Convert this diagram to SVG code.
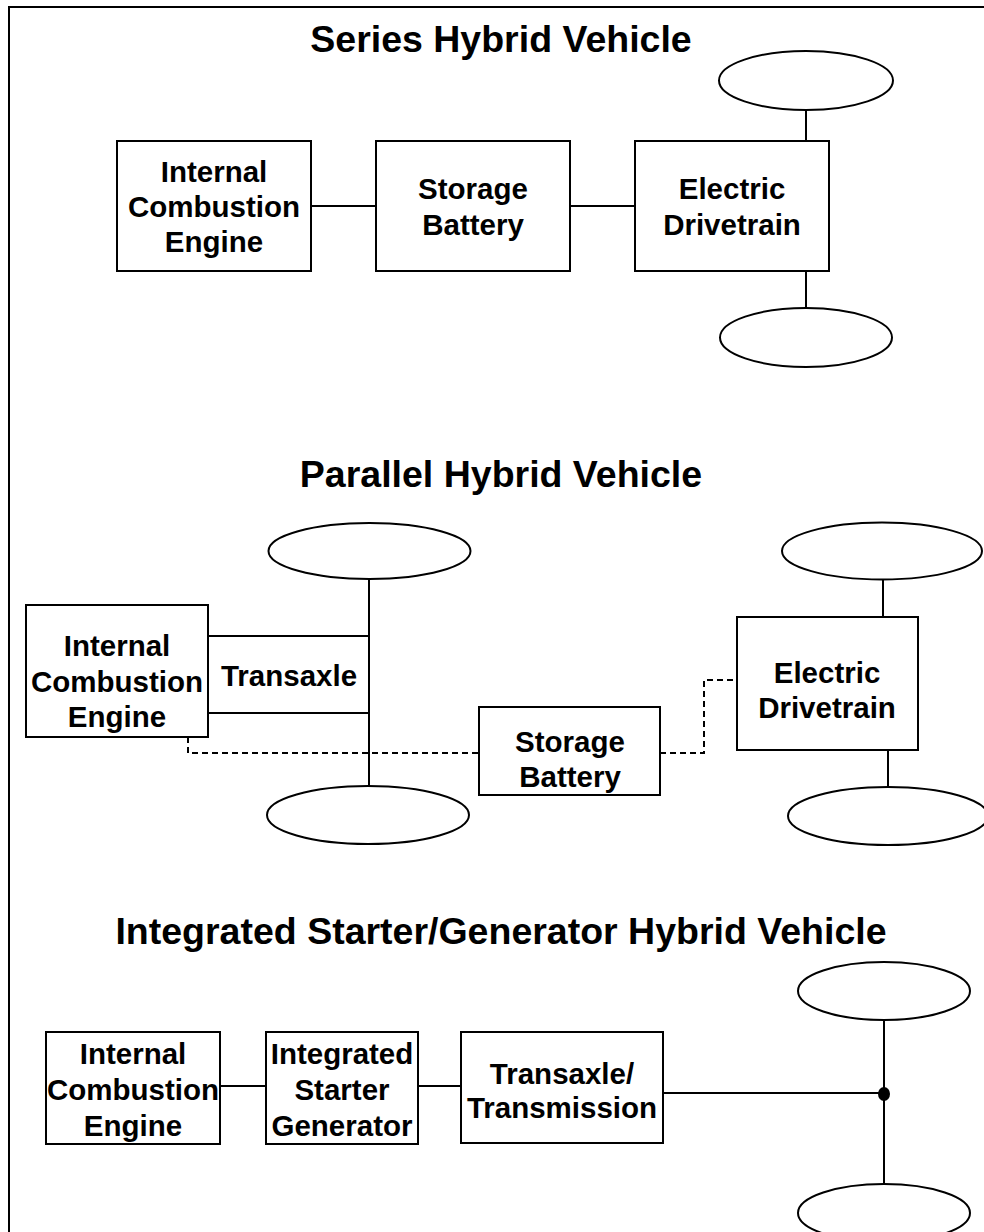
<svg xmlns="http://www.w3.org/2000/svg" width="984" height="1232" viewBox="0 0 984 1232">
  <style>
    .box { fill: #fff; stroke: #000; stroke-width: 2; }
    .wheel { fill: #fff; stroke: #000; stroke-width: 2; }
    .link { fill: none; stroke: #000; stroke-width: 2; }
    .dash { fill: none; stroke: #000; stroke-width: 2; stroke-dasharray: 6 4; }
    .title { font-family: "Liberation Sans", Arial, sans-serif; font-weight: bold; font-size: 37.5px; text-anchor: middle; fill: #000; }
    .label { font-family: "Liberation Sans", Arial, sans-serif; font-weight: bold; font-size: 29.5px; text-anchor: middle; fill: #000; }
  </style>

  <rect x="0" y="0" width="984" height="1232" fill="#fff"/>
  <!-- page frame -->
  <rect x="9" y="7" width="1000" height="1300" fill="none" stroke="#000" stroke-width="2"/>

  <!-- section titles -->
  <text class="title" x="501" y="52">Series Hybrid Vehicle</text>
  <text class="title" x="501" y="487">Parallel Hybrid Vehicle</text>
  <text class="title" x="501" y="944">Integrated Starter/Generator Hybrid Vehicle</text>

  <!-- connectors -->
  <g id="connectors">
    <!-- series -->
    <line class="link" x1="311" y1="206" x2="376" y2="206"/>
    <line class="link" x1="570" y1="206" x2="635" y2="206"/>
    <line class="link" x1="806" y1="110" x2="806" y2="141"/>
    <line class="link" x1="806" y1="271" x2="806" y2="308"/>
    <!-- parallel -->
    <line class="link" x1="369" y1="580" x2="369" y2="787"/>
    <polyline class="dash" points="188,737 188,753 479,753"/>
    <polyline class="dash" points="660,753 704,753 704,680 736,680"/>
    <line class="link" x1="883" y1="579" x2="883" y2="617"/>
    <line class="link" x1="888" y1="750" x2="888" y2="787"/>
    <!-- integrated starter/generator -->
    <line class="link" x1="220" y1="1086" x2="266" y2="1086"/>
    <line class="link" x1="418" y1="1086" x2="461" y2="1086"/>
    <line class="link" x1="663" y1="1093" x2="884" y2="1093"/>
    <line class="link" x1="884" y1="1020" x2="884" y2="1184"/>
    <ellipse cx="884" cy="1094" rx="6" ry="7" fill="#000"/>
  </g>

  <!-- series hybrid -->
  <g id="series-engine">
    <rect class="box" x="117" y="141" width="194" height="130"/>
    <text class="label" x="214" y="182">Internal</text>
    <text class="label" x="214" y="217">Combustion</text>
    <text class="label" x="214" y="252">Engine</text>
  </g>
  <g id="series-battery">
    <rect class="box" x="376" y="141" width="194" height="130"/>
    <text class="label" x="473" y="199">Storage</text>
    <text class="label" x="473" y="235">Battery</text>
  </g>
  <g id="series-drivetrain">
    <rect class="box" x="635" y="141" width="194" height="130"/>
    <text class="label" x="732" y="199">Electric</text>
    <text class="label" x="732" y="235">Drivetrain</text>
  </g>
  <g id="series-wheel-top"><ellipse class="wheel" cx="806" cy="80.5" rx="87" ry="29.5"/></g>
  <g id="series-wheel-bottom"><ellipse class="wheel" cx="806" cy="337.5" rx="86" ry="29.5"/></g>

  <!-- parallel hybrid -->
  <g id="parallel-wheel-left-top"><ellipse class="wheel" cx="369.5" cy="551" rx="101" ry="28"/></g>
  <g id="parallel-wheel-left-bottom"><ellipse class="wheel" cx="368" cy="815" rx="101" ry="29"/></g>
  <g id="parallel-transaxle">
    <polyline class="link" points="208,636 369,636"/>
    <polyline class="link" points="208,713 369,713"/>
    <text class="label" x="289" y="686">Transaxle</text>
  </g>
  <g id="parallel-engine">
    <rect class="box" x="26" y="605" width="182" height="132"/>
    <text class="label" x="117" y="656">Internal</text>
    <text class="label" x="117" y="692">Combustion</text>
    <text class="label" x="117" y="727">Engine</text>
  </g>
  <g id="parallel-battery">
    <rect class="box" x="479" y="707" width="181" height="88"/>
    <text class="label" x="570" y="752">Storage</text>
    <text class="label" x="570" y="787">Battery</text>
  </g>
  <g id="parallel-drivetrain">
    <rect class="box" x="737" y="617" width="181" height="133"/>
    <text class="label" x="827" y="683">Electric</text>
    <text class="label" x="827" y="718">Drivetrain</text>
  </g>
  <g id="parallel-wheel-right-top"><ellipse class="wheel" cx="882" cy="551" rx="100" ry="28.5"/></g>
  <g id="parallel-wheel-right-bottom"><ellipse class="wheel" cx="888" cy="816" rx="100" ry="29"/></g>

  <!-- integrated starter/generator hybrid -->
  <g id="isg-engine">
    <rect class="box" x="46" y="1032" width="174" height="112"/>
    <text class="label" x="133" y="1064">Internal</text>
    <text class="label" x="133" y="1100">Combustion</text>
    <text class="label" x="133" y="1136">Engine</text>
  </g>
  <g id="isg-generator">
    <rect class="box" x="266" y="1032" width="152" height="112"/>
    <text class="label" x="342" y="1064">Integrated</text>
    <text class="label" x="342" y="1100">Starter</text>
    <text class="label" x="342" y="1136">Generator</text>
  </g>
  <g id="isg-transmission">
    <rect class="box" x="461" y="1032" width="202" height="111"/>
    <text class="label" x="562" y="1084">Transaxle/</text>
    <text class="label" x="562" y="1118">Transmission</text>
  </g>
  <g id="isg-wheel-top"><ellipse class="wheel" cx="884" cy="991" rx="86" ry="29"/></g>
  <g id="isg-wheel-bottom"><ellipse class="wheel" cx="884" cy="1213" rx="86" ry="29"/></g>
</svg>
